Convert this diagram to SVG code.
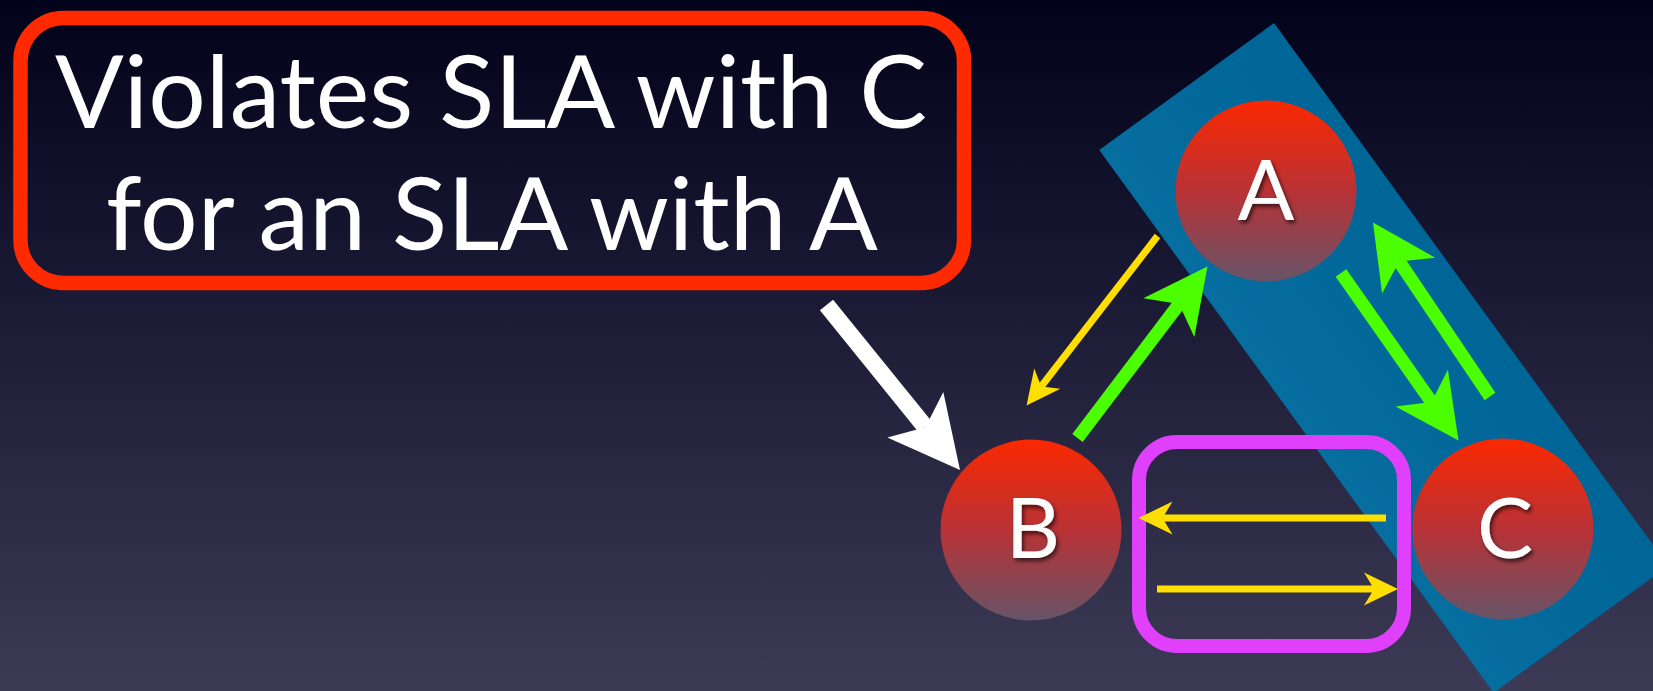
<svg xmlns="http://www.w3.org/2000/svg" width="1653" height="691" viewBox="0 0 1653 691">
  <defs>
    <linearGradient id="bg" x1="0" y1="0" x2="0" y2="1">
      <stop offset="0" stop-color="#02021a"/>
      <stop offset="0.45" stop-color="#1c1b36"/>
      <stop offset="1" stop-color="#3c3a55"/>
    </linearGradient>
    <linearGradient id="blue" gradientUnits="userSpaceOnUse" x1="0" y1="23" x2="0" y2="691">
      <stop offset="0" stop-color="#006597"/>
      <stop offset="1" stop-color="#1883b6"/>
    </linearGradient>
    <linearGradient id="ball" x1="0" y1="0" x2="0" y2="1">
      <stop offset="0" stop-color="#fa2800"/>
      <stop offset="0.5" stop-color="#b93236"/>
      <stop offset="1" stop-color="#675468"/>
    </linearGradient>
    <filter id="shadow" x="-30%" y="-30%" width="160%" height="160%">
      <feDropShadow dx="2" dy="3" stdDeviation="2" flood-color="#000" flood-opacity="0.65"/>
    </filter>
    <marker id="mWhite" markerUnits="userSpaceOnUse" orient="auto" refX="0" refY="0" markerWidth="80" markerHeight="80" overflow="visible">
      <path d="M55,0 L-16,-36 L0,0 L-16,36 Z" fill="#ffffff"/>
    </marker>
    <marker id="mGreen" markerUnits="userSpaceOnUse" orient="auto" refX="0" refY="0" markerWidth="70" markerHeight="70" overflow="visible">
      <path d="M47,0 L-17,-32 L0,0 L-17,32 Z" fill="#4cff00"/>
    </marker>
    <marker id="mYellow" markerUnits="userSpaceOnUse" orient="auto" refX="0" refY="0" markerWidth="40" markerHeight="40" overflow="visible">
      <path d="M24,0 L-10,-16.5 L0,0 L-10,16.5 Z" fill="#ffde00"/>
    </marker>
  </defs>
  <style>
    .label { font-family: Lato, "Liberation Sans", sans-serif; fill: #ffffff; }
    .callout { font-size: 101px; }
    .node-label { font-size: 84px; text-anchor: middle; filter: url(#shadow); }
    .ball { fill: url(#ball); }
    .white { stroke: #ffffff; stroke-width: 17; fill: none; marker-end: url(#mWhite); }
    .green { stroke: #4cff00; stroke-width: 13; fill: none; marker-end: url(#mGreen); }
    .yellow { stroke: #ffde00; stroke-width: 7; fill: none; marker-end: url(#mYellow); }
  </style>

  <rect x="0" y="0" width="1653" height="691" fill="url(#bg)"/>

  <g id="group-AC">
    <rect x="0" y="0" width="671" height="216" fill="url(#blue)" transform="translate(1274,23) rotate(54)"/>
  </g>

  <g id="group-BC">
    <rect x="1139" y="442" width="265" height="204" rx="38" ry="38" fill="none" stroke="#e040fb" stroke-width="14"/>
  </g>

  <g id="callout">
    <rect x="20.5" y="18" width="943.5" height="265" rx="43" ry="43" fill="none" stroke="#ff2a00" stroke-width="14.5"/>
    <text class="label callout" x="491" y="128" text-anchor="middle" textLength="872" lengthAdjust="spacingAndGlyphs">Violates SLA with C</text>
    <text class="label callout" x="492" y="250" text-anchor="middle" textLength="772" lengthAdjust="spacingAndGlyphs">for an SLA with A</text>
  </g>

  <g id="node-A">
    <circle class="ball" cx="1266" cy="191" r="90.5"/>
    <text class="label node-label" x="1266" y="220">A</text>
  </g>
  <g id="node-B">
    <circle class="ball" cx="1031" cy="530" r="90.5"/>
    <text class="label node-label" x="1033" y="558">B</text>
  </g>
  <g id="node-C">
    <circle class="ball" cx="1503" cy="529" r="90.5"/>
    <text class="label node-label" x="1505" y="558">C</text>
  </g>

  <g id="connectors">
    <line class="white" x1="826.5" y1="305" x2="925.4" y2="427.2"/>
    <line class="yellow" x1="1157.5" y1="236" x2="1041.2" y2="386.5"/>
    <line class="green" x1="1077.5" y1="438" x2="1179.1" y2="304"/>
    <line class="green" x1="1341" y1="273" x2="1431.5" y2="402.1"/>
    <line class="green" x1="1490" y1="396.5" x2="1399.2" y2="261.5"/>
    <line class="yellow" x1="1386" y1="518" x2="1162.5" y2="518"/>
    <line class="yellow" x1="1157" y1="589" x2="1374" y2="589"/>
  </g>
</svg>
